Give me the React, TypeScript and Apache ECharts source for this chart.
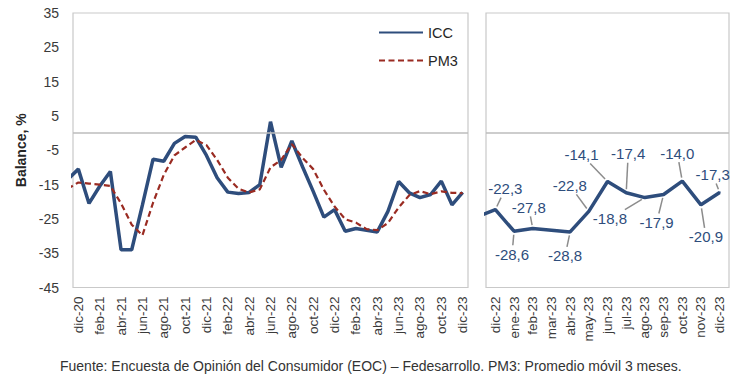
import React, { useEffect, useRef } from 'react';
import * as echarts from 'echarts';

// Months (nov-20 is only the clipped lead-in point at the left edge)
const months = [
  'nov-20', 'dic-20', 'ene-21', 'feb-21', 'mar-21', 'abr-21', 'may-21', 'jun-21', 'jul-21', 'ago-21', 'sep-21', 'oct-21', 'nov-21',
  'dic-21', 'ene-22', 'feb-22', 'mar-22', 'abr-22', 'may-22', 'jun-22', 'jul-22', 'ago-22', 'sep-22', 'oct-22', 'nov-22',
  'dic-22', 'ene-23', 'feb-23', 'mar-23', 'abr-23', 'may-23', 'jun-23', 'jul-23', 'ago-23', 'sep-23', 'oct-23', 'nov-23', 'dic-23',
];

const icc = [
  -13.5, -10.5, -20.5, -15.5, -11.2, -34.0, -34.0, -21.0, -7.6, -8.2, -3.0, -1.0, -1.2,
  -6.5, -13.0, -17.2, -17.6, -17.3, -15.0, 3.3, -10.0, -2.3, -9.8, -17.0, -24.5,
  -22.3, -28.6, -27.8, -28.3, -28.8, -22.8, -14.1, -17.4, -18.8, -17.9, -14.0, -20.9, -17.3,
];

const pm3 = [
  -16.2, -14.4, -14.7, -15.0, -15.4, -20.5, -26.7, -29.8, -20.3, -12.2, -6.5, -4.2, -2.0,
  -3.5, -7.8, -13.0, -16.2, -17.3, -16.4, -10.0, -7.8, -3.2, -7.2, -10.5, -16.5,
  -21.4, -25.1, -26.1, -28.0, -28.3, -26.2, -21.7, -18.1, -16.9, -17.8, -17.0, -17.4, -17.5,
];

const yTicks = [-45, -35, -25, -15, -5, 5, 15, 25, 35];

// Detail panel starts at nov-22 (lead-in point, clipped)
const detailStart = 'nov-22';
const unlabelled = ['nov-22', 'mar-23'];

// label offsets (px) for the detail panel, by month
const labelOffsets: Record<string, [number, number]> = {
  'dic-22': [10, -21],
  'ene-23': [-2, 23],
  'feb-23': [-4, -21],
  'abr-23': [-5, 24],
  'may-23': [-19, -26],
  'jun-23': [-26, -27],
  'jul-23': [2, -39],
  'ago-23': [-35, 21],
  'sep-23': [-7, 28],
  'oct-23': [-5, -28],
  'nov-23': [5, 32],
  'dic-23': [-7, -18],
};

const FONT = '"Liberation Sans", Arial, Helvetica, sans-serif';
const BLUE = '#2E4D7C';
const RED = '#9A2B22';
const GUIDE = '#8c8c8c';
const FOOTER = 'Fuente: Encuesta de Opinión del Consumidor (EOC) – Fedesarrollo. PM3: Promedio móvil 3 meses.';

export default function App() {
  const ref = useRef<HTMLDivElement>(null);

  useEffect(() => {
    if (!ref.current) return;
    const chart = echarts.init(ref.current, null, { renderer: 'svg' });
    const fmt = (v: number) => v.toFixed(1).replace('.', ',');

    const start = months.indexOf(detailStart);
    const rightMonths = months.slice(start);
    const rightVals = icc.slice(start);
    const rightData = rightVals.map((v, i) => {
      const m = rightMonths[i];
      const item: any = { value: v };
      if (unlabelled.includes(m)) item.label = { show: false };
      if (i === 0) item.symbol = 'none';
      return item;
    });

    const zeroLine = {
      silent: true,
      symbol: 'none',
      label: { show: false },
      lineStyle: { color: '#bdbdbd', width: 1.5, type: 'solid' },
      data: [{ yAxis: 0 }],
    };

    const xLabel = { rotate: 90, fontSize: 13.5, color: '#3a3a3a', fontFamily: FONT, margin: 9 };

    const option: any = {
      animation: false,
      textStyle: { fontFamily: FONT },
      grid: [
        { left: 73, top: 13, width: 395, height: 274.5, show: true, borderColor: '#c9c9c9', borderWidth: 1.2 },
        { left: 486, top: 13, width: 243, height: 274.5, show: true, borderColor: '#c9c9c9', borderWidth: 1.2 },
      ],
      xAxis: [
        {
          gridIndex: 0, type: 'category', data: months, min: 1, max: months.length - 1, boundaryGap: true,
          axisLine: { show: false }, axisTick: { show: false }, splitLine: { show: false },
          axisLabel: { ...xLabel, interval: (i: number) => i % 2 === 1 },
        },
        {
          gridIndex: 1, type: 'category', data: rightMonths, min: 1, max: rightMonths.length - 1, boundaryGap: true,
          axisLine: { show: false }, axisTick: { show: false }, splitLine: { show: false },
          axisLabel: { ...xLabel, interval: 0 },
        },
      ],
      yAxis: [
        {
          gridIndex: 0, type: 'value', min: -45, max: 35,
          axisLine: { show: false }, axisTick: { show: false }, splitLine: { show: false },
          axisLabel: { customValues: yTicks, fontSize: 14, color: '#3a3a3a', fontFamily: FONT, margin: 14 },
          name: 'Balance, %', nameLocation: 'middle', nameGap: 42, nameRotate: 90,
          nameTextStyle: { fontWeight: 'bold', fontSize: 14, color: '#262626', fontFamily: FONT },
        },
        {
          gridIndex: 1, type: 'value', min: -45, max: 35,
          axisLine: { show: false }, axisTick: { show: false }, splitLine: { show: false }, axisLabel: { show: false },
        },
      ],
      legend: {
        data: ['ICC', 'PM3'], orient: 'vertical', left: 373, top: 20, itemWidth: 44, itemHeight: 14, itemGap: 13,
        itemStyle: { opacity: 0 },
        textStyle: { fontSize: 14.5, color: '#262626', fontFamily: FONT },
      },
      series: [
        {
          name: 'ICC', type: 'line', xAxisIndex: 0, yAxisIndex: 0, data: icc, symbol: 'none',
          lineStyle: { color: BLUE, width: 3.5 }, itemStyle: { color: BLUE }, z: 3, markLine: zeroLine,
        },
        {
          name: 'PM3', type: 'line', xAxisIndex: 0, yAxisIndex: 0, data: pm3, symbol: 'none',
          lineStyle: { color: RED, width: 2.2, type: [6, 3.5] }, itemStyle: { color: RED }, z: 4,
        },
        {
          name: 'ICC', type: 'line', xAxisIndex: 1, yAxisIndex: 1, data: rightData, symbol: 'circle', symbolSize: 2, z: 3,
          lineStyle: { color: BLUE, width: 3.5 }, itemStyle: { color: BLUE },
          label: { show: true, position: 'inside', formatter: (p: any) => fmt(p.value), fontSize: 15, color: BLUE, fontFamily: FONT },
          labelLayout: (p: any) => {
            const m = rightMonths[p.dataIndex];
            const o = labelOffsets[m];
            return o ? { dx: o[0], dy: o[1] } : {};
          },
          markLine: zeroLine,
        },
      ],
      graphic: [
        { id: 'footer', type: 'text', left: 60, top: 359, style: { text: FOOTER, fontSize: 14, fill: '#333333', fontFamily: FONT } },
      ],
    };

    chart.setOption(option);

    // leader lines from each labelled point to its label, placed through the grid's own scales
    const guides: any[] = [];
    rightMonths.forEach((m, idx) => {
      const o = labelOffsets[m];
      if (!o) return;
      const p = chart.convertToPixel({ gridIndex: 1 } as any, [idx, rightVals[idx]]) as any;
      if (!p) return;
      const px = p[0];
      const py = p[1];
      const cx = px + o[0];
      const cy = py + o[1];
      const dx = px - cx;
      const dy = py - cy;
      const s = Math.min(dx !== 0 ? 19 / Math.abs(dx) : Infinity, dy !== 0 ? 9 / Math.abs(dy) : Infinity);
      if (s >= 1) return;
      const ex = cx + dx * s;
      const ey = cy + dy * s;
      const len = Math.hypot(px - ex, py - ey);
      if (len < 7) return;
      const ux = (ex - px) / len;
      const uy = (ey - py) / len;
      guides.push({
        id: 'guide-' + m,
        type: 'line',
        z: 100,
        shape: { x1: px + ux * 3.5, y1: py + uy * 3.5, x2: ex, y2: ey },
        style: { stroke: GUIDE, lineWidth: 1.5 },
      });
    });
    chart.setOption({
      graphic: [
        { id: 'footer', type: 'text', left: 60, top: 359, style: { text: FOOTER, fontSize: 14, fill: '#333333', fontFamily: FONT } },
        ...guides,
      ],
    });

    return () => chart.dispose();
  }, []);

  return (
    <div ref={ref} style={{ position: 'fixed', left: 0, top: 0, width: 745, height: 384, background: '#ffffff' }} />
  );
}
